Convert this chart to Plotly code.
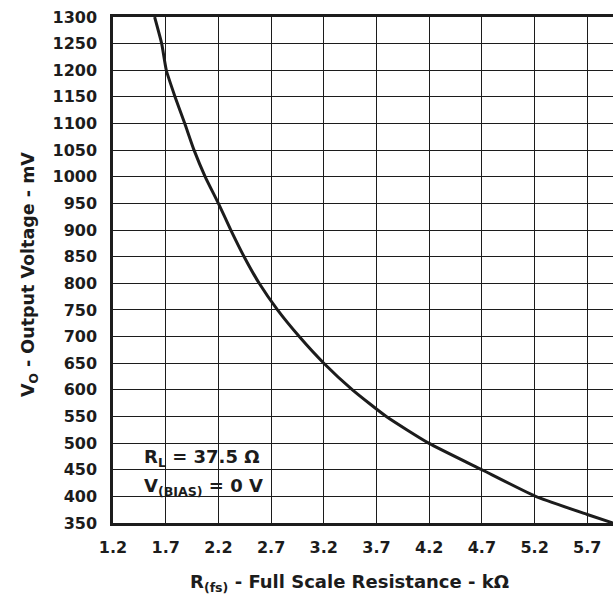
import plotly.graph_objects as go

# Output voltage versus full-scale resistance (RL = 37.5 ohm, V(BIAS) = 0 V)
r_fs_kohm = [1.595, 1.662, 1.706, 1.789, 1.881, 1.969, 2.075, 2.200, 2.318, 2.444,
             2.587, 2.761, 2.967, 3.200, 3.472, 3.793, 4.195, 4.700, 5.210, 5.700, 5.944]
vo_mv = [1300, 1250, 1200, 1150, 1100, 1050, 1000, 950, 900, 850,
         800, 750, 700, 650, 600, 550, 500, 450, 400, 366, 350]

x_ticks = [1.2, 1.7, 2.2, 2.7, 3.2, 3.7, 4.2, 4.7, 5.2, 5.7]
x_tick_text = ["1.2", "1.7", "2.2", "2.7", "3.2", "3.7", "4.2", "4.7", "5.2", "5.7"]
y_ticks = list(range(350, 1301, 50))

FONT = "DejaVu Sans"
INK = "#1c1c1c"

fig = go.Figure()
fig.add_trace(go.Scatter(
    x=r_fs_kohm, y=vo_mv, mode="lines",
    line=dict(color=INK, width=3, shape="spline", smoothing=0.5),
    hoverinfo="skip", showlegend=False,
))

# white box behind the condition labels (covers the grid)
fig.add_shape(type="rect", xref="paper", yref="paper",
              x0=0.030, x1=0.354, y0=0.0415, y1=0.164,
              fillcolor="white", line=dict(width=0), layer="between")

fig.add_annotation(xref="paper", yref="paper", x=0.058, y=0.128,
                   xanchor="left", yanchor="middle", showarrow=False,
                   text="<b>R<sub>L</sub> = 37.5 Ω</b>",
                   font=dict(family=FONT, size=18, color=INK))
fig.add_annotation(xref="paper", yref="paper", x=0.058, y=0.072,
                   xanchor="left", yanchor="middle", showarrow=False,
                   text="<b>V<sub>(BIAS)</sub> = 0 V</b>",
                   font=dict(family=FONT, size=18, color=INK))

# axis titles
fig.add_annotation(xref="paper", yref="paper", x=0.472, y=-0.118,
                   xanchor="center", yanchor="middle", showarrow=False,
                   text="<b>R<sub>(fs)</sub> - Full Scale Resistance - kΩ</b>",
                   font=dict(family=FONT, size=18, color=INK))
fig.add_annotation(xref="paper", yref="paper", x=-0.168, y=0.490,
                   xanchor="center", yanchor="middle", showarrow=False,
                   textangle=-90,
                   text="<b>V<sub>O</sub> - Output Voltage - mV</b>",
                   font=dict(family=FONT, size=17.5, color=INK))

fig.update_xaxes(range=[1.2, 5.944], tickvals=x_ticks, ticktext=x_tick_text,
                 showgrid=True, gridcolor=INK, gridwidth=1.3,
                 showline=True, linecolor=INK, linewidth=2.5, mirror=True,
                 ticks="", ticklabelstandoff=8, zeroline=False,
                 tickfont=dict(family=FONT, size=16, color=INK, weight="bold"))
fig.update_yaxes(range=[350, 1300], tickvals=y_ticks,
                 showgrid=True, gridcolor=INK, gridwidth=1.3,
                 showline=True, linecolor=INK, linewidth=2.5,
                 ticks="", ticklabelstandoff=10, zeroline=False,
                 tickfont=dict(family=FONT, size=16, color=INK, weight="bold"))

fig.update_layout(width=613, height=603,
                  margin=dict(l=113, r=0, t=17, b=80),
                  paper_bgcolor="white", plot_bgcolor="white",
                  font=dict(family=FONT, color=INK))

fig.write_html("out.html")
